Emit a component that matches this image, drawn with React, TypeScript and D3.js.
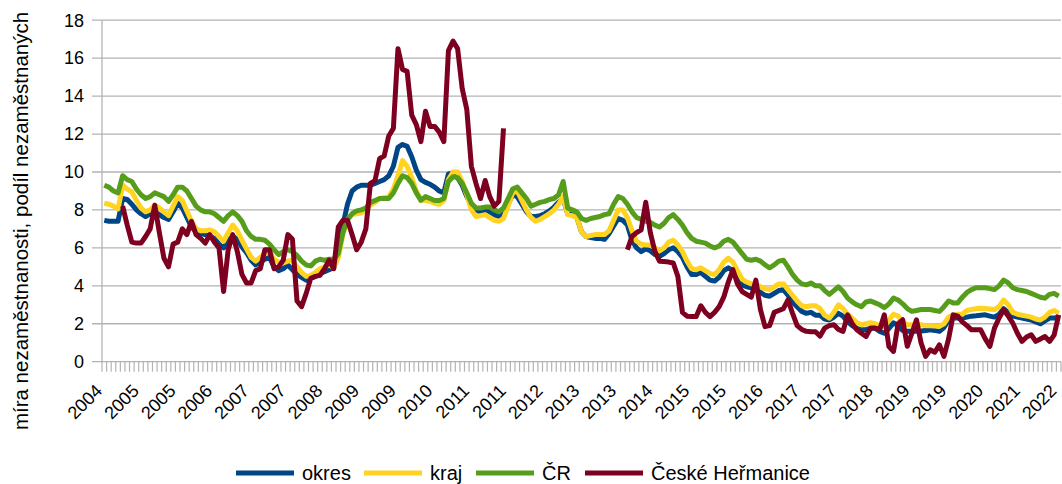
import React from 'react';
import * as d3 from 'd3';

const tickLabels = ['2004','2005','2005','2006','2007','2007','2008','2009','2009','2010','2011','2011','2012','2013','2013','2014','2015','2015','2016','2017','2017','2018','2019','2019','2020','2021','2022'];

const okres: (number | null)[] = [
  7.45, 7.4, 7.4, 7.4, 8.6, 8.55, 8.3, 8.0, 7.8, 7.65,
  7.8, 7.9, 7.75, 7.6, 7.5, 7.9, 8.35, 8.1, 7.6, 7.1,
  6.85, 6.75, 6.7, 6.6, 6.5, 6.2, 6.0, 6.4, 6.6, 6.45,
  6.05, 5.75, 5.35, 5.1, 5.25, 5.4, 5.5, 5.0, 4.8, 4.9,
  5.1, 4.85, 4.6, 4.45, 4.3, 4.4, 4.5, 4.65, 4.75, 4.85,
  4.95, 5.8, 7.2, 8.3, 9.0, 9.2, 9.3, 9.3, 9.3, 9.4,
  9.5, 9.6, 9.8, 10.3, 11.3, 11.45, 11.35, 10.8, 10.1, 9.6,
  9.45, 9.35, 9.2, 9.0, 8.9, 9.9, 9.95, 9.7, 9.3, 8.7,
  8.25, 8.0, 7.9, 8.0, 7.9, 7.75, 7.65, 7.8, 8.3, 8.8,
  8.7, 8.3, 7.9, 7.65, 7.65, 7.7, 7.8, 7.95, 8.15, 8.4,
  8.6, 7.8, 7.75, 7.6, 6.85, 6.6, 6.55, 6.5, 6.5, 6.45,
  6.75, 7.15, 7.55, 7.45, 7.2, 6.4, 6.0, 5.8, 5.95, 5.85,
  5.65, 5.55, 5.7, 5.9, 6.0, 5.8, 5.5, 5.0, 4.6, 4.6,
  4.7, 4.5, 4.3, 4.25, 4.45, 4.8, 4.95, 4.8, 4.4, 4.05,
  3.95, 3.9, 3.8, 3.65, 3.5, 3.45, 3.6, 3.75, 3.8, 3.5,
  3.15, 2.9, 2.65, 2.55, 2.6, 2.45, 2.45, 2.25, 2.2, 2.35,
  2.55, 2.4, 2.1, 1.9, 1.75, 1.68, 1.7, 1.75, 1.77, 1.6,
  1.5, 1.75, 2.05, 1.9, 1.65, 1.6, 1.6, 1.6, 1.62, 1.65,
  1.68, 1.65, 1.6, 1.8, 2.2, 2.3, 2.3, 2.3, 2.35, 2.4,
  2.42, 2.45, 2.47, 2.4, 2.35, 2.5, 2.8, 2.6, 2.4, 2.35,
  2.3, 2.25, 2.2, 2.1, 2.0, 2.15, 2.3, 2.3, 2.35,
];

const kraj: (number | null)[] = [
  8.35, 8.3, 8.2, 8.05, 9.3, 9.1, 8.95, 8.5, 8.1, 7.9,
  8.0, 8.25, 8.1, 7.9, 7.7, 8.2, 8.7, 8.5, 7.95, 7.4,
  7.0, 6.9, 6.9, 6.95, 6.85, 6.6, 6.35, 6.8, 7.2, 6.9,
  6.4, 5.95, 5.5, 5.3, 5.5, 5.7, 5.8, 5.4, 5.25, 5.2,
  5.3, 5.35, 5.0, 4.7, 4.5, 4.55, 4.7, 4.9, 5.0, 5.1,
  4.95, 5.5, 6.7, 7.5, 7.75, 7.8, 7.85, 8.0, 8.25, 8.4,
  8.6, 8.65, 8.7, 9.1, 9.8, 10.6, 10.3, 9.7, 9.0, 8.55,
  8.5, 8.45, 8.35, 8.3, 8.5, 9.6, 10.0, 10.0, 9.5, 8.8,
  8.0, 7.65, 7.7, 7.75, 7.6, 7.45, 7.4, 7.55, 8.2, 8.9,
  9.0, 8.5, 8.0, 7.6, 7.4, 7.5, 7.65, 7.8, 8.0, 8.3,
  8.7, 7.75, 7.7, 7.6, 6.85, 6.6, 6.65, 6.7, 6.7, 6.7,
  6.9, 7.45, 8.0, 8.0, 7.6, 6.9, 6.35, 6.2, 6.15, 6.15,
  6.0, 5.85, 6.0, 6.3, 6.4, 6.15, 5.8, 5.3, 4.9, 4.85,
  4.95, 4.8, 4.65, 4.6, 4.85, 5.25, 5.45, 5.25, 4.8, 4.35,
  4.2, 4.1, 4.05, 3.95, 3.85, 3.8, 3.95, 4.1, 4.1, 3.8,
  3.5, 3.2, 2.95, 2.9, 2.95, 2.95, 2.8, 2.45, 2.3, 2.6,
  3.0, 2.8, 2.5, 2.3, 2.05, 1.95, 2.0, 2.05, 2.0, 1.9,
  1.85, 2.2, 2.5, 2.4, 2.1, 1.95, 1.95, 1.95, 1.95, 1.9,
  1.9, 1.88, 1.86, 2.0, 2.35, 2.45, 2.5, 2.5, 2.7, 2.75,
  2.8, 2.82, 2.8, 2.78, 2.75, 2.9, 3.25, 3.0, 2.6, 2.5,
  2.45, 2.4, 2.35, 2.25, 2.2, 2.35, 2.6, 2.7, 2.55,
];

const cr: (number | null)[] = [
  9.3, 9.2, 9.0, 8.9, 9.8, 9.6, 9.5, 9.1, 8.8, 8.6,
  8.7, 8.9, 8.8, 8.7, 8.45, 8.8, 9.2, 9.2, 9.0, 8.6,
  8.2, 8.0, 7.9, 7.9, 7.8, 7.6, 7.4, 7.7, 7.9, 7.7,
  7.4, 6.9, 6.6, 6.45, 6.45, 6.4, 6.2, 5.9, 5.65, 5.8,
  5.9, 5.8, 5.6, 5.3, 5.1, 5.05, 5.3, 5.4, 5.35, 5.4,
  5.4, 5.7, 6.8, 7.5, 7.8, 7.95, 8.0, 8.1, 8.4, 8.5,
  8.6, 8.6, 8.6, 8.9, 9.4, 9.8, 9.7, 9.4, 8.9, 8.5,
  8.7, 8.6, 8.5, 8.5, 8.6, 9.5, 9.75, 9.7, 9.4, 8.9,
  8.35, 8.1, 8.1, 8.15, 8.15, 8.0, 7.9, 8.1, 8.6, 9.1,
  9.2, 8.9, 8.6, 8.2, 8.3, 8.4, 8.45, 8.55, 8.6, 8.8,
  9.5, 8.1, 8.0, 7.9, 7.55, 7.45, 7.55, 7.6, 7.65, 7.75,
  7.8, 8.3, 8.7, 8.6, 8.3, 7.9, 7.6, 7.5, 7.4, 7.35,
  7.2, 7.1, 7.3, 7.6, 7.75, 7.5, 7.2, 6.8, 6.5, 6.35,
  6.3, 6.25, 6.1, 6.0, 6.1, 6.35, 6.45, 6.3, 6.0, 5.7,
  5.4, 5.35, 5.4, 5.3, 5.1, 4.95, 5.1, 5.3, 5.35, 5.0,
  4.6, 4.3, 4.1, 4.05, 4.15, 4.0, 4.0, 3.75, 3.55, 3.75,
  3.95, 3.7, 3.35, 3.15, 3.0, 2.9, 3.15, 3.2, 3.1, 3.0,
  2.85, 3.05, 3.35, 3.25, 3.05, 2.8, 2.65, 2.7, 2.75, 2.75,
  2.75, 2.7, 2.65, 2.9, 3.2, 3.1, 3.1, 3.4, 3.65, 3.8,
  3.9, 3.9, 3.9, 3.85, 3.8, 4.0, 4.3, 4.15, 3.9, 3.8,
  3.75, 3.7, 3.6, 3.5, 3.4, 3.35, 3.55, 3.6, 3.45,
];

const hermanice: (number | null)[] = [
  null, null, null, null, 8.2, 7.2, 6.3, 6.25, 6.25, 6.6,
  7.0, 8.25, 6.8, 5.45, 5.0, 6.2, 6.3, 7.0, 6.7, 7.4,
  6.7, 6.5, 6.25, 6.7, 6.3, 6.0, 3.7, 5.9, 6.7, 5.8,
  4.6, 4.15, 4.15, 4.8, 4.9, 5.9, 5.9, 4.9, 5.0, 5.35,
  6.7, 6.45, 3.2, 2.9, 3.6, 4.4, 4.5, 4.55, 4.9, 5.35,
  4.9, 7.1, 7.45, 7.45, 6.7, 5.9, 6.3, 7.0, 9.4, 9.55,
  10.7, 10.85, 11.9, 12.3, 16.5, 15.4, 15.3, 13.0, 12.5, 11.6,
  13.2, 12.4, 12.4, 12.1, 11.6, 16.4, 16.9, 16.5, 14.4, 13.3,
  10.3, 9.4, 8.6, 9.55, 8.7, 8.2, 8.45, 12.3, null, null,
  null, null, null, null, null, null, null, null, null, null,
  null, null, null, null, null, null, null, null, null, null,
  null, null, null, null, 5.9, 6.6, 6.8, 6.95, 8.4, 6.8,
  5.8, 5.3, 5.28, 5.25, 5.2, 4.5, 2.6, 2.4, 2.38, 2.38,
  2.95, 2.6, 2.38, 2.6, 2.9, 3.4, 4.2, 4.85, 4.1, 3.7,
  3.55, 3.4, 4.3, 2.75, 1.85, 1.9, 2.6, 2.7, 2.8, 3.25,
  2.55, 1.9, 1.7, 1.6, 1.58, 1.58, 1.35, 1.77, 1.9, 1.95,
  1.7, 1.6, 2.47, 2.0, 1.68, 1.5, 1.33, 1.77, 1.77, 1.7,
  2.47, 0.8, 0.54, 2.0, 2.21, 0.81, 1.5, 2.21, 1.0, 0.28,
  0.63, 0.5, 0.89, 0.28, 1.2, 2.47, 2.4, 2.1, 1.9, 1.68,
  1.68, 1.68, 1.2, 0.81, 1.77, 2.3, 2.74, 2.4, 2.03, 1.5,
  1.07, 1.3, 1.42, 1.07, 1.2, 1.33, 1.07, 1.4, 2.47,
];

const seriesNames = ['okres', 'kraj', 'ČR', 'České Heřmanice'];
const seriesColors = ['#004586', '#ffd320', '#579d1c', '#7e0021'];
const seriesData = [okres, kraj, cr, hermanice];
const yTicks = [0, 2, 4, 6, 8, 10, 12, 14, 16, 18];
const yTitle = 'míra nezaměstnanosti, podíl nezaměstnaných';

const W = 1062;
const H = 484;
const FONT = '"Liberation Sans", Arial, sans-serif';

export default function App() {
  const n = okres.length;
  const x = d3.scaleBand<number>().domain(d3.range(n)).range([102, 1061]).padding(0);
  const bw = x.bandwidth();
  const y = d3.scaleLinear().domain([0, 18]).range([361.7, 20.2]);
  const cx = (i: number) => (x(i) as number) + bw / 2;
  const line = d3
    .line<number | null>()
    .defined((d) => d != null)
    .x((_, i) => cx(i))
    .y((d) => y(d as number))
    .curve(d3.curveLinear);

  const grid = '#b3b3b3';
  const legendItems = [
    { lx: 236, tx: 302 },
    { lx: 364, tx: 430 },
    { lx: 476, tx: 542 },
    { lx: 585, tx: 651 },
  ];

  return (
    <svg
      width={W}
      height={H}
      style={{ position: 'absolute', left: 0, top: 0, background: '#fff' }}
      fontFamily={FONT}
    >
      <rect x={0} y={0} width={W} height={H} fill="#fff" />
      {yTicks.map((t) => (
        <g key={t}>
          <line x1={92} x2={1061} y1={y(t)} y2={y(t)} stroke={grid} strokeWidth={1.3} />
          <text x={84} y={y(t)} dy="0.35em" textAnchor="end" fontSize={18} fill="#000">
            {t}
          </text>
        </g>
      ))}
      <line x1={102} x2={102} y1={y(18)} y2={y(0)} stroke={grid} strokeWidth={1.3} />
      {d3.range(n + 1).map((k) => {
        const xx = 102 + k * bw;
        return <line key={k} x1={xx} x2={xx} y1={y(0)} y2={y(0) + 10} stroke={grid} strokeWidth={1.2} />;
      })}
      {tickLabels.map((lab, k) => {
        const i = k * 8;
        return (
          <text
            key={k}
            transform={`translate(${cx(i) - 1},${392}) rotate(-45)`}
            textAnchor="end"
            fontSize={18}
            fill="#000"
          >
            {lab}
          </text>
        );
      })}
      {seriesData.map((s, si) => (
        <path
          key={si}
          d={line(s) || ''}
          fill="none"
          stroke={seriesColors[si]}
          strokeWidth={5}
          strokeLinejoin="round"
          strokeLinecap="butt"
        />
      ))}
      <text
        transform={`translate(28,${221}) rotate(-90)`}
        textAnchor="middle"
        fontSize={20.5}
        fill="#000"
      >
        {yTitle}
      </text>
      {legendItems.map((it, si) => (
        <g key={si}>
          <line x1={it.lx} x2={it.lx + 58} y1={473} y2={473} stroke={seriesColors[si]} strokeWidth={5} />
          <text x={it.tx} y={473} dy="0.35em" fontSize={20} fill="#000">
            {seriesNames[si]}
          </text>
        </g>
      ))}
    </svg>
  );
}
